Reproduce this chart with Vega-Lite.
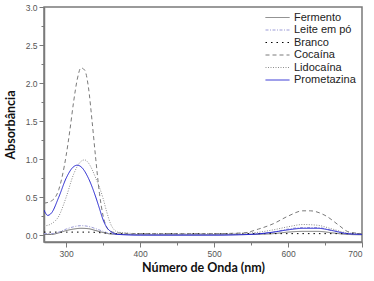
{
  "$schema": "https://vega.github.io/schema/vega-lite/v6.json",
  "width": 318,
  "height": 235,
  "autosize": {"type": "none"},
  "padding": {"left": 44, "top": 7, "right": 12, "bottom": 39},
  "background": "white",
  "config": {
    "view": {"stroke": "#7a7a7a", "strokeWidth": 1.5},
    "axis": {
      "domainColor": "#7a7a7a",
      "domainWidth": 1.5,
      "tickColor": "#7a7a7a",
      "labelColor": "#555555",
      "labelFont": "Liberation Sans",
      "labelFontSize": 8.5,
      "titleFont": "Lato",
      "titleFontWeight": "bold",
      "titleFontSize": 12.5,
      "titleColor": "#111111",
      "grid": false
    }
  },
  "data": {
    "values": [
      {"s": "Fermento", "x": 270, "y": 0.01},
      {"s": "Fermento", "x": 280, "y": 0.01},
      {"s": "Fermento", "x": 290, "y": 0.03},
      {"s": "Fermento", "x": 300, "y": 0.06},
      {"s": "Fermento", "x": 310, "y": 0.08},
      {"s": "Fermento", "x": 320, "y": 0.09},
      {"s": "Fermento", "x": 330, "y": 0.085},
      {"s": "Fermento", "x": 340, "y": 0.06},
      {"s": "Fermento", "x": 350, "y": 0.035},
      {"s": "Fermento", "x": 360, "y": 0.015},
      {"s": "Fermento", "x": 370, "y": 0.01},
      {"s": "Fermento", "x": 450, "y": 0.005},
      {"s": "Fermento", "x": 550, "y": 0.01},
      {"s": "Fermento", "x": 580, "y": 0.02},
      {"s": "Fermento", "x": 600, "y": 0.04},
      {"s": "Fermento", "x": 620, "y": 0.05},
      {"s": "Fermento", "x": 640, "y": 0.05},
      {"s": "Fermento", "x": 660, "y": 0.03},
      {"s": "Fermento", "x": 680, "y": 0.01},
      {"s": "Fermento", "x": 700, "y": 0.005},

      {"s": "Leite em pó", "x": 270, "y": 0.02},
      {"s": "Leite em pó", "x": 280, "y": 0.02},
      {"s": "Leite em pó", "x": 290, "y": 0.04},
      {"s": "Leite em pó", "x": 300, "y": 0.08},
      {"s": "Leite em pó", "x": 310, "y": 0.11},
      {"s": "Leite em pó", "x": 320, "y": 0.125},
      {"s": "Leite em pó", "x": 330, "y": 0.115},
      {"s": "Leite em pó", "x": 340, "y": 0.085},
      {"s": "Leite em pó", "x": 350, "y": 0.05},
      {"s": "Leite em pó", "x": 360, "y": 0.02},
      {"s": "Leite em pó", "x": 370, "y": 0.01},
      {"s": "Leite em pó", "x": 450, "y": 0.01},
      {"s": "Leite em pó", "x": 550, "y": 0.015},
      {"s": "Leite em pó", "x": 580, "y": 0.04},
      {"s": "Leite em pó", "x": 600, "y": 0.08},
      {"s": "Leite em pó", "x": 620, "y": 0.1},
      {"s": "Leite em pó", "x": 640, "y": 0.1},
      {"s": "Leite em pó", "x": 660, "y": 0.06},
      {"s": "Leite em pó", "x": 680, "y": 0.02},
      {"s": "Leite em pó", "x": 700, "y": 0.01},

      {"s": "Branco", "x": 270, "y": 0.04},
      {"s": "Branco", "x": 300, "y": 0.04},
      {"s": "Branco", "x": 330, "y": 0.04},
      {"s": "Branco", "x": 350, "y": 0.03},
      {"s": "Branco", "x": 370, "y": 0.02},
      {"s": "Branco", "x": 500, "y": 0.02},
      {"s": "Branco", "x": 600, "y": 0.02},
      {"s": "Branco", "x": 700, "y": 0.02},

      {"s": "Cocaína", "x": 270, "y": 0.42},
      {"s": "Cocaína", "x": 280, "y": 0.45},
      {"s": "Cocaína", "x": 290, "y": 0.6},
      {"s": "Cocaína", "x": 300, "y": 1.05},
      {"s": "Cocaína", "x": 305, "y": 1.38},
      {"s": "Cocaína", "x": 310, "y": 1.75},
      {"s": "Cocaína", "x": 315, "y": 2.05},
      {"s": "Cocaína", "x": 320, "y": 2.2},
      {"s": "Cocaína", "x": 325, "y": 2.17},
      {"s": "Cocaína", "x": 330, "y": 1.95},
      {"s": "Cocaína", "x": 335, "y": 1.5},
      {"s": "Cocaína", "x": 340, "y": 1.0},
      {"s": "Cocaína", "x": 345, "y": 0.55},
      {"s": "Cocaína", "x": 350, "y": 0.25},
      {"s": "Cocaína", "x": 355, "y": 0.1},
      {"s": "Cocaína", "x": 360, "y": 0.05},
      {"s": "Cocaína", "x": 370, "y": 0.03},
      {"s": "Cocaína", "x": 400, "y": 0.02},
      {"s": "Cocaína", "x": 500, "y": 0.02},
      {"s": "Cocaína", "x": 540, "y": 0.03},
      {"s": "Cocaína", "x": 560, "y": 0.08},
      {"s": "Cocaína", "x": 580, "y": 0.15},
      {"s": "Cocaína", "x": 600, "y": 0.25},
      {"s": "Cocaína", "x": 620, "y": 0.32},
      {"s": "Cocaína", "x": 630, "y": 0.32},
      {"s": "Cocaína", "x": 650, "y": 0.26},
      {"s": "Cocaína", "x": 670, "y": 0.12},
      {"s": "Cocaína", "x": 680, "y": 0.05},
      {"s": "Cocaína", "x": 690, "y": 0.03},
      {"s": "Cocaína", "x": 700, "y": 0.02},

      {"s": "Lidocaína", "x": 270, "y": 0.12},
      {"s": "Lidocaína", "x": 280, "y": 0.15},
      {"s": "Lidocaína", "x": 290, "y": 0.25},
      {"s": "Lidocaína", "x": 300, "y": 0.5},
      {"s": "Lidocaína", "x": 310, "y": 0.8},
      {"s": "Lidocaína", "x": 320, "y": 0.97},
      {"s": "Lidocaína", "x": 325, "y": 0.99},
      {"s": "Lidocaína", "x": 330, "y": 0.95},
      {"s": "Lidocaína", "x": 340, "y": 0.75},
      {"s": "Lidocaína", "x": 350, "y": 0.48},
      {"s": "Lidocaína", "x": 355, "y": 0.3},
      {"s": "Lidocaína", "x": 360, "y": 0.15},
      {"s": "Lidocaína", "x": 365, "y": 0.07},
      {"s": "Lidocaína", "x": 370, "y": 0.04},
      {"s": "Lidocaína", "x": 400, "y": 0.02},
      {"s": "Lidocaína", "x": 500, "y": 0.02},
      {"s": "Lidocaína", "x": 550, "y": 0.03},
      {"s": "Lidocaína", "x": 580, "y": 0.07},
      {"s": "Lidocaína", "x": 600, "y": 0.11},
      {"s": "Lidocaína", "x": 620, "y": 0.14},
      {"s": "Lidocaína", "x": 640, "y": 0.13},
      {"s": "Lidocaína", "x": 660, "y": 0.08},
      {"s": "Lidocaína", "x": 680, "y": 0.03},
      {"s": "Lidocaína", "x": 700, "y": 0.02},

      {"s": "Prometazina", "x": 270, "y": 0.33},
      {"s": "Prometazina", "x": 275, "y": 0.26},
      {"s": "Prometazina", "x": 280, "y": 0.29},
      {"s": "Prometazina", "x": 290, "y": 0.5},
      {"s": "Prometazina", "x": 300, "y": 0.75},
      {"s": "Prometazina", "x": 310, "y": 0.9},
      {"s": "Prometazina", "x": 315, "y": 0.92},
      {"s": "Prometazina", "x": 320, "y": 0.9},
      {"s": "Prometazina", "x": 330, "y": 0.75},
      {"s": "Prometazina", "x": 340, "y": 0.5},
      {"s": "Prometazina", "x": 345, "y": 0.35},
      {"s": "Prometazina", "x": 350, "y": 0.2},
      {"s": "Prometazina", "x": 355, "y": 0.1},
      {"s": "Prometazina", "x": 360, "y": 0.05},
      {"s": "Prometazina", "x": 370, "y": 0.01},
      {"s": "Prometazina", "x": 400, "y": 0.0},
      {"s": "Prometazina", "x": 500, "y": 0.0},
      {"s": "Prometazina", "x": 550, "y": 0.01},
      {"s": "Prometazina", "x": 580, "y": 0.04},
      {"s": "Prometazina", "x": 600, "y": 0.07},
      {"s": "Prometazina", "x": 620, "y": 0.09},
      {"s": "Prometazina", "x": 640, "y": 0.09},
      {"s": "Prometazina", "x": 660, "y": 0.06},
      {"s": "Prometazina", "x": 680, "y": 0.02},
      {"s": "Prometazina", "x": 700, "y": 0.01}
    ]
  },
  "mark": {"type": "line", "interpolate": "monotone", "clip": true},
  "encoding": {
    "x": {
      "field": "x", "type": "quantitative",
      "scale": {"domain": [270, 700], "nice": false, "zero": false},
      "axis": {
        "title": "Número de Onda (nm)",
        "values": [300, 350, 400, 450, 500, 550, 600, 650, 700],
        "labelExpr": "datum.value % 100 === 0 ? datum.label : ''",
        "tickSize": {"condition": {"test": "datum.value % 100 === 0", "value": 5}, "value": 3},
        "labelPadding": 2,
        "titlePadding": 4
      }
    },
    "y": {
      "field": "y", "type": "quantitative",
      "scale": {"domain": [-0.09, 3.0], "nice": false, "zero": false},
      "axis": {
        "title": "Absorbância",
        "values": [0, 0.25, 0.5, 0.75, 1, 1.25, 1.5, 1.75, 2, 2.25, 2.5, 2.75, 3],
        "format": ".1f",
        "labelExpr": "round(datum.value * 4) % 2 === 0 ? datum.label : ''",
        "tickSize": {"condition": {"test": "round(datum.value * 4) % 2 === 0", "value": 5}, "value": 3},
        "labelPadding": 2,
        "titlePadding": 8
      }
    },
    "color": {
      "field": "s", "type": "nominal",
      "scale": {
        "domain": ["Fermento", "Leite em pó", "Branco", "Cocaína", "Lidocaína", "Prometazina"],
        "range": ["#6e6e6e", "#9b9bd6", "#000000", "#7a7a7a", "#8c8c8c", "#2424d0"]
      },
      "legend": {
        "title": null,
        "orient": "none",
        "legendX": 227,
        "legendY": 4,
        "symbolType": "M-2,0H2",
        "symbolSize": 144,
        "symbolStrokeWidth": 1,
        "symbolFillColor": "transparent",
        "labelFont": "Liberation Sans",
        "labelFontSize": 11,
        "labelColor": "#222222",
        "labelOffset": 10,
        "rowPadding": 0.5
      }
    },
    "strokeDash": {
      "field": "s", "type": "nominal",
      "scale": {
        "domain": ["Fermento", "Leite em pó", "Branco", "Cocaína", "Lidocaína", "Prometazina"],
        "range": [[1, 0], [3, 1.5, 1, 1.5], [1.5, 4], [4, 3], [1, 1.5], [1, 0]]
      },
      "legend": {
        "title": null,
        "orient": "none",
        "legendX": 227,
        "legendY": 4,
        "symbolType": "M-2,0H2",
        "symbolSize": 144,
        "symbolStrokeWidth": 1,
        "symbolFillColor": "transparent",
        "labelFont": "Liberation Sans",
        "labelFontSize": 11,
        "labelColor": "#222222",
        "labelOffset": 10,
        "rowPadding": 0.5
      }
    },
    "strokeWidth": {
      "field": "s", "type": "nominal",
      "scale": {
        "domain": ["Fermento", "Leite em pó", "Branco", "Cocaína", "Lidocaína", "Prometazina"],
        "range": [1, 1, 1.5, 1, 1, 1.6]
      },
      "legend": null
    }
  }
}
